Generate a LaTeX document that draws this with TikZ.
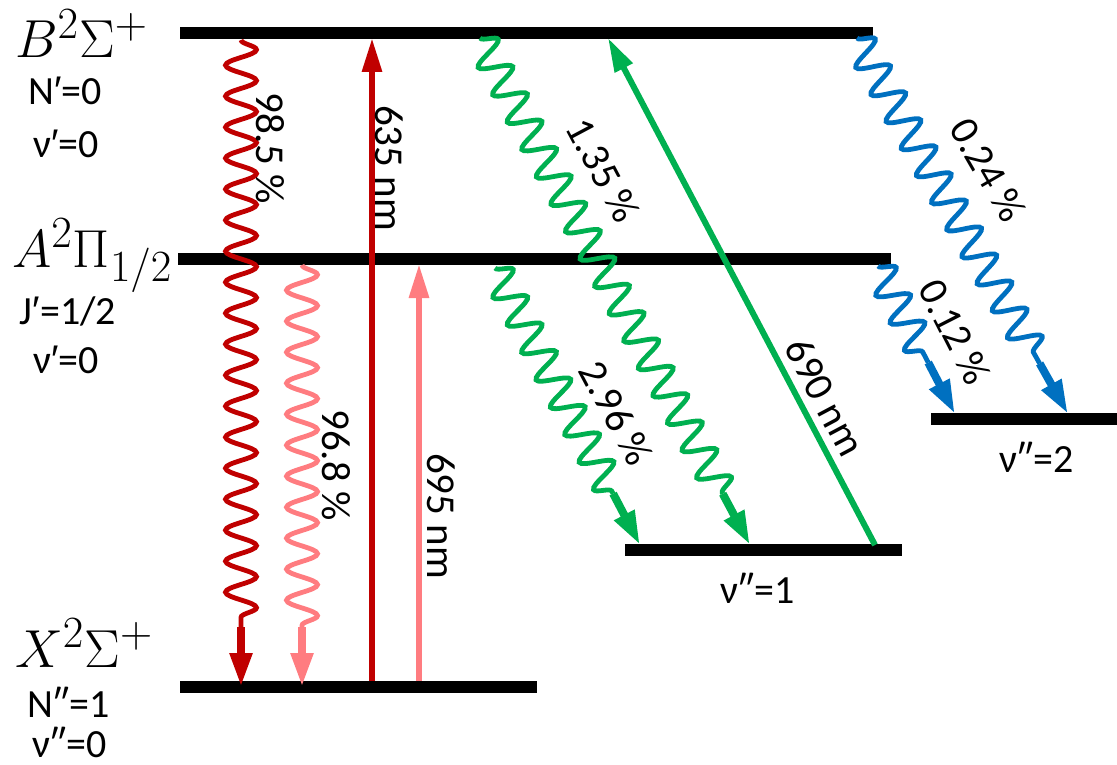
\documentclass[tikz,border=0pt]{standalone}
\usepackage{fontspec}
\setmainfont{Carlito}
\newfontfamily\primefont{Liberation Sans}
\usetikzlibrary{decorations.pathmorphing,arrows.meta,calc}
\definecolor{dred}{HTML}{C00000}
\definecolor{lred}{HTML}{FF7C80}
\definecolor{dgreen}{HTML}{00B050}
\definecolor{dblue}{HTML}{0070C0}
\newcommand{\sprime}{{\primefont ′}}
\newcommand{\statetxt}[1]{\scalebox{2.15}{\Huge$#1$}}
\tikzset{
  level/.style={line width=12pt},
  wave/.style={draw=#1, line width=4.8pt, decorate,
    decoration={snake, segment length=31pt, amplitude=15.5pt}},
  stem/.style={draw=#1, line width=8pt, -{Triangle[width=21pt,length=34pt]}},
  pump/.style={draw=#1, line width=6pt, -{Triangle[width=19pt,length=34pt]}},
  statelbl/.style={inner sep=0pt},
  qlbl/.style={inner sep=0pt, font=\fontsize{40}{46}\selectfont},
  ratelbl/.style={inner sep=0pt, font=\fontsize{41}{48}\selectfont},
}
\begin{document}
\begin{tikzpicture}[x=1pt,y=-1pt]
\useasboundingbox (0,0) rectangle (1117,765);

% energy levels
\coordinate (B1) at (180,33);  \coordinate (B2) at (873,33);
\coordinate (A1) at (178,259); \coordinate (A2) at (891,259);
\coordinate (X1) at (180,687); \coordinate (X2) at (537,687);
\coordinate (V1a) at (625,550); \coordinate (V1b) at (902,550);
\coordinate (V2a) at (931,419); \coordinate (V2b) at (1117,419);
\draw[level] (B1) -- (B2);
\draw[level] (A1) -- (A2);
\draw[level] (X1) -- (X2);
\draw[level] (V1a) -- (V1b);
\draw[level] (V2a) -- (V2b);

% state labels
\node[statelbl, anchor=base west] (lB) at (15,58) {\statetxt{B^2\Sigma^+}};
\node[qlbl] (lBN) at (65,91) {N\sprime=0};
\node[qlbl] (lBv) at (66,144) {ν\sprime=0};
\node[statelbl, anchor=base west] (lA) at (12,267) {\statetxt{A^2\Pi_{1/2}}};
\node[qlbl] (lAJ) at (68,311) {J\sprime=1/2};
\node[qlbl] (lAv) at (66,360) {ν\sprime=0};
\node[statelbl, anchor=base west] (lX) at (15,667) {\statetxt{X^2\Sigma^+}};
\node[qlbl] (lXN) at (69,702) {N″=1};
\node[qlbl] (lXv) at (70,742) {ν″=0};
\node[qlbl] (lV1) at (758,588) {ν″=1};
\node[qlbl] (lV2) at (1037,457) {ν″=2};

% arrow end points
\coordinate (r1s) at (241,40);  \coordinate (r1e) at (241,687);
\coordinate (r2s) at (302,265); \coordinate (r2e) at (302,687);
\coordinate (p1s) at (372,681); \coordinate (p1e) at (372,38);
\coordinate (p2s) at (419,681); \coordinate (p2e) at (419,264);
\coordinate (g1s) at (480,38);  \coordinate (g1e) at (750,545);
\coordinate (g2s) at (495,268); \coordinate (g2e) at (640,545);
\coordinate (g3s) at (875,545); \coordinate (g3e) at (608,38);
\coordinate (b1s) at (857,38);  \coordinate (b1e) at (1068,414);
\coordinate (b2s) at (878,266); \coordinate (b2e) at (955,414);

% spontaneous decays
\draw[wave=dred] (r1s) -- ($(r1e)!60pt!(r1s)$) coordinate (r1m);
\draw[stem=dred] (r1m) -- (r1e);
\draw[wave=lred] (r2s) -- ($(r2e)!60pt!(r2s)$) coordinate (r2m);
\draw[stem=lred] (r2m) -- (r2e);
\draw[wave=dgreen] (g1s) -- ($(g1e)!58pt!(g1s)$) coordinate (g1m);
\draw[stem=dgreen] (g1m) -- (g1e);
\draw[wave=dgreen] (g2s) -- ($(g2e)!58pt!(g2s)$) coordinate (g2m);
\draw[stem=dgreen] (g2m) -- (g2e);
\draw[wave=dblue] (b1s) -- ($(b1e)!58pt!(b1s)$) coordinate (b1m);
\draw[stem=dblue] (b1m) -- (b1e);
\draw[wave=dblue] (b2s) -- ($(b2e)!58pt!(b2s)$) coordinate (b2m);
\draw[stem=dblue] (b2m) -- (b2e);

% laser excitations
\draw[pump=dred] (p1s) -- (p1e);
\draw[pump=lred] (p2s) -- (p2e);
\draw[pump=dgreen] (g3s) -- (g3e);

% branching ratios and wavelengths
\node[ratelbl, rotate=-90] (t985) at (270,148) {98.5 \%};
\node[ratelbl, rotate=-90] (t635) at (389,168) {635 nm};
\node[ratelbl, rotate=-90] (t968) at (336,465) {96.8 \%};
\node[ratelbl, rotate=-90] (t695) at (441,516) {695 nm};
\node[ratelbl, rotate=-62] (t135) at (603,170) {1.35 \%};
\node[ratelbl, rotate=-62] (t296) at (616,413) {2.96 \%};
\node[ratelbl, rotate=-62] (t690) at (825,397) {690 nm};
\node[ratelbl, rotate=-60] (t024) at (988,170) {0.24 \%};
\node[ratelbl, rotate=-63] (t012) at (955,332) {0.12 \%};
\end{tikzpicture}
\end{document}
